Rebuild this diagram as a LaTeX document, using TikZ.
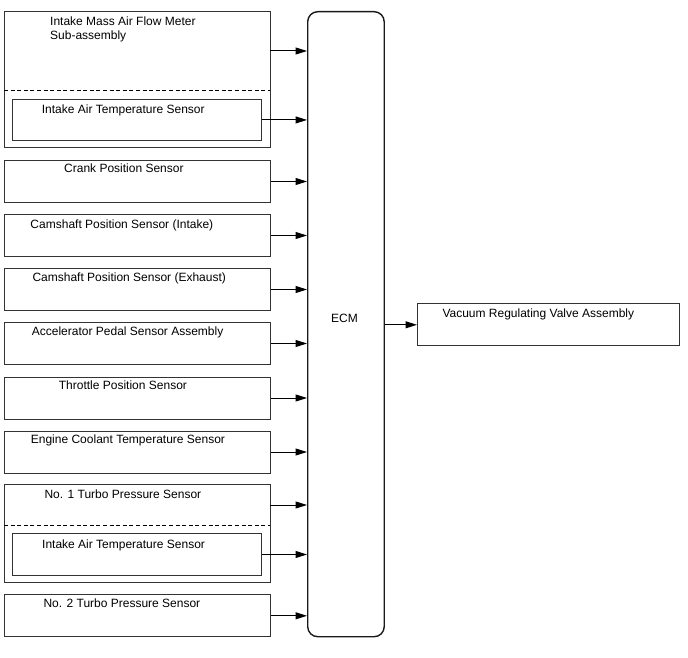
\documentclass[tikz,border=0pt]{standalone}
\usepackage{fontspec}
\setmainfont{Liberation Sans}
\usetikzlibrary{arrows.meta}
\begin{document}
\begin{tikzpicture}[x=1pt,y=-1pt,
  box/.style={draw=black!80, line width=1pt, anchor=north west, inner sep=0pt, fill=white},
  sbox/.style={box, minimum width=266pt, minimum height=42pt},
  ibox/.style={box, minimum width=248.5pt, minimum height=42pt},
  lbl/.style={anchor=base west, inner sep=0pt, font=\fontsize{12}{14}\selectfont},
  sig/.style={draw=black, line width=1pt, -{Triangle[length=11.5pt,width=7pt]}},
  sep/.style={draw=black, line width=1pt, dash pattern=on 4pt off 2.6pt}]
\useasboundingbox (0,0) rectangle (688,658);

% ECM
\node[box, draw=black!90, line width=1.4pt, rounded corners=10pt, minimum width=76.5pt, minimum height=625pt] (ecm) at (307,11) {};
\node[anchor=base, inner sep=0pt, font=\fontsize{12}{14}\selectfont] (ecmt) at (344.5,322.6) {ECM};

% Intake mass air flow meter group
\node[box, minimum width=266pt, minimum height=136pt] (maf) at (4,11) {};
\node[ibox, minimum height=41.5pt] (iat1) at (12,98.7) {};
\coordinate (mafsepL) at (4,91);
\coordinate (mafsepR) at (270,91);
\draw[sep] (mafsepL) -- (mafsepR);
\node[lbl] (maft1) at (50,26) {Intake Mass Air Flow Meter};
\node[lbl] (maft2) at (50,40) {Sub-assembly};
\node[lbl] (iat1t) at (41.7,113.5) {Intake Air Temperature Sensor};
\coordinate (mafout) at (270,51);

% Single sensors
\node[sbox] (crank) at (4,160) {};
\node[lbl] (crankt) at (64,172.5) {Crank Position Sensor};
\node[sbox] (camin) at (4,214) {};
\node[lbl] (camint) at (30.3,228) {Camshaft Position Sensor (Intake)};
\node[sbox] (camex) at (4,268) {};
\node[lbl] (camext) at (32.3,281) {Camshaft Position Sensor (Exhaust)};
\node[sbox] (accel) at (4,322) {};
\node[lbl] (accelt) at (31.7,335.3) {Accelerator Pedal Sensor Assembly};
\node[sbox] (thr) at (4,376.5) {};
\node[lbl] (thrt) at (58.7,389.6) {Throttle Position Sensor};
\node[sbox] (ect) at (4,430.5) {};
\node[lbl] (ectt) at (30.7,443) {Engine Coolant Temperature Sensor};

% Turbo pressure group
\node[box, minimum width=266pt, minimum height=98pt] (turbo1) at (4,484) {};
\node[ibox] (iat2) at (12,533) {};
\coordinate (t1sepL) at (4,525);
\coordinate (t1sepR) at (270,525);
\draw[sep] (t1sepL) -- (t1sepR);
\node[lbl] (turbo1t) at (44.3,498) {No. 1 Turbo Pressure Sensor};
\node[lbl] (iat2t) at (42,548) {Intake Air Temperature Sensor};
\coordinate (t1out) at (270,505);

\node[sbox] (turbo2) at (4,594.3) {};
\node[lbl] (turbo2t) at (43.3,607) {No. 2 Turbo Pressure Sensor};

% Output
\node[box, minimum width=262pt, minimum height=42pt] (vrv) at (417,303.3) {};
\node[lbl] (vrvt) at (442.3,317.6) {Vacuum Regulating Valve Assembly};

% Connectors
\draw[sig] (mafout) -- (mafout -| ecm.west);
\foreach \n in {iat1,crank,camin,camex,accel,thr,ect,iat2,turbo2}
  \draw[sig] (\n.east) -- (\n.east -| ecm.west);
\draw[sig] (t1out) -- (t1out -| ecm.west);
\draw[sig] (ecm.east |- vrv.west) -- (vrv.west);
\end{tikzpicture}
\end{document}
